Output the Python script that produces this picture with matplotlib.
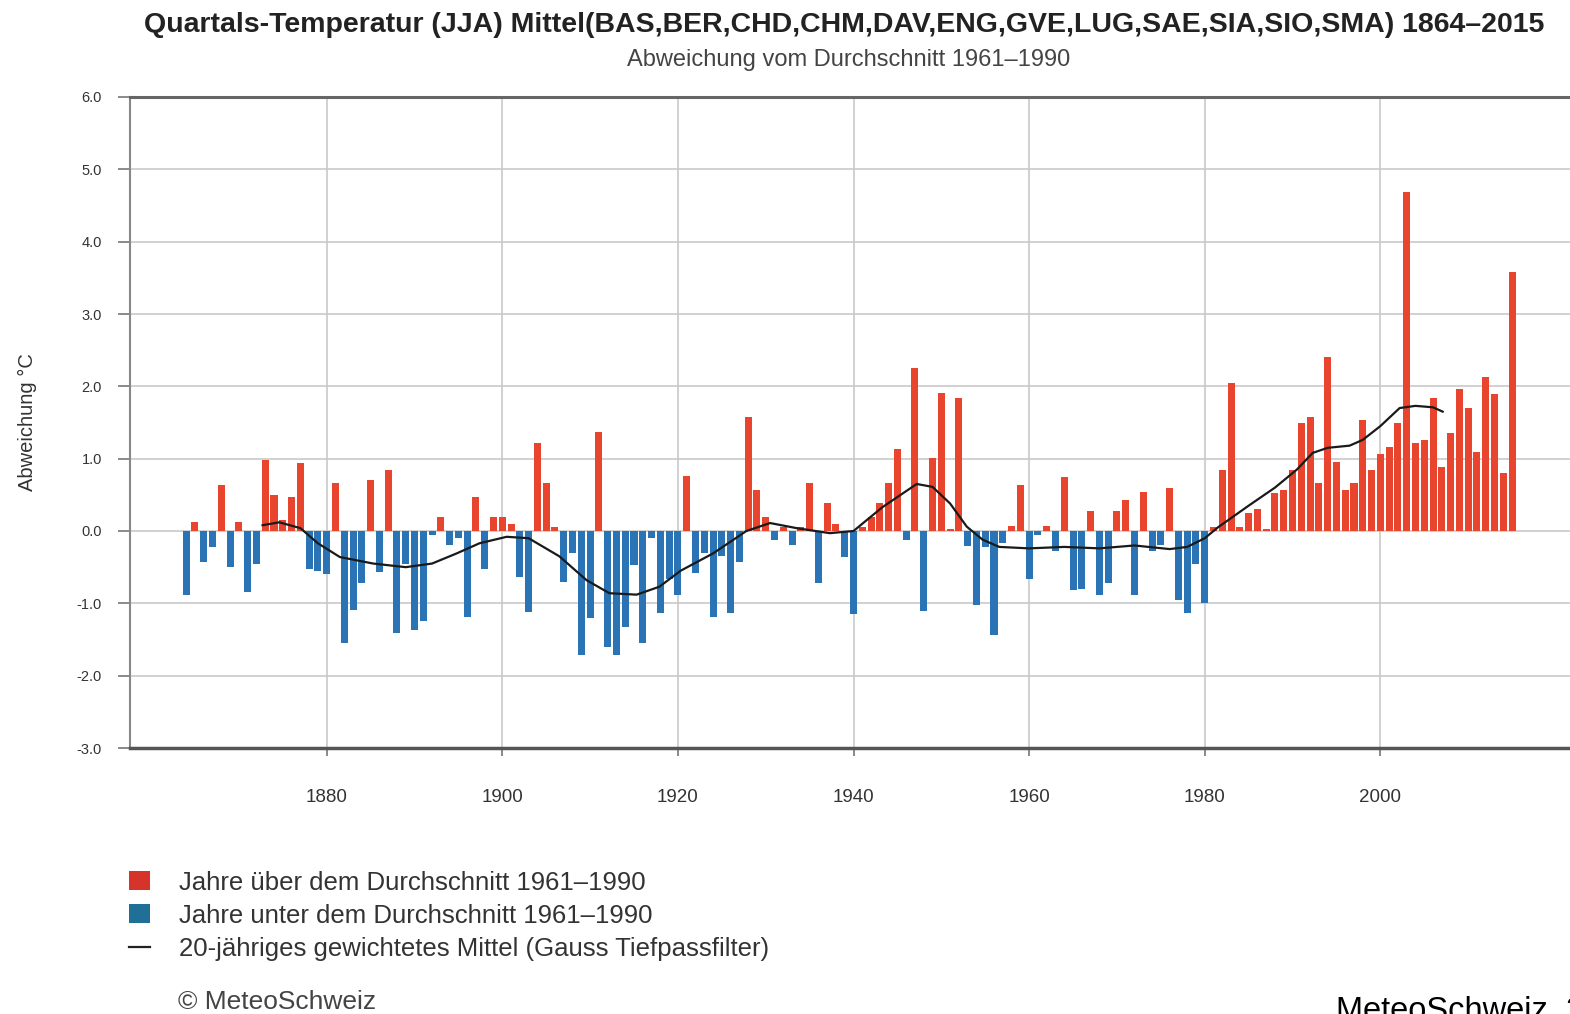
import matplotlib
matplotlib.use("Agg")
import matplotlib.pyplot as plt
from matplotlib.patches import Patch
from matplotlib.lines import Line2D

plt.rcParams['font.family'] = ['Liberation Sans', 'DejaVu Sans']

# summer (JJA) anomalies vs 1961-1990, one value per year 1864..2015
years = list(range(1864, 2016))
anomaly = [
    -0.89, 0.13, -0.43, -0.22, 0.64, -0.50, 0.13, -0.84, -0.45, 0.98,   # 1864-1873
    0.50, 0.15, 0.47, 0.94, -0.52, -0.55, -0.60, 0.66, -1.55, -1.09,    # 1874-1883
    -0.72, 0.70, -0.56, 0.84, -1.41, -0.45, -1.37, -1.25, -0.05, 0.20,  # 1884-1893
    -0.20, -0.10, -1.19, 0.47, -0.52, 0.20, 0.20, 0.10, -0.63, -1.12,   # 1894-1903
    1.22, 0.66, 0.05, -0.71, -0.30, -1.71, -1.20, 1.37, -1.60, -1.71,   # 1904-1913
    -1.33, -0.47, -1.55, -0.10, -1.14, -0.67, -0.89, 0.76, -0.58, -0.30,  # 1914-1923
    -1.19, -0.35, -1.14, -0.43, 1.58, 0.57, 0.20, -0.12, 0.05, -0.20,   # 1924-1933
    0.05, 0.67, -0.72, 0.39, 0.10, -0.36, -1.15, 0.05, 0.20, 0.39,      # 1934-1943
    0.67, 1.13, -0.12, 2.25, -1.11, 1.01, 1.91, 0.03, 1.84, -0.21,      # 1944-1953
    -1.02, -0.22, -1.44, -0.17, 0.07, 0.64, -0.67, -0.05, 0.07, -0.27,  # 1954-1963
    0.75, -0.81, -0.80, 0.27, -0.88, -0.72, 0.27, 0.43, -0.88, 0.54,    # 1964-1973
    -0.27, -0.20, 0.60, -0.95, -1.14, -0.45, -1.00, 0.05, 0.84, 2.05,   # 1974-1983
    0.05, 0.25, 0.30, 0.03, 0.52, 0.57, 0.85, 1.50, 1.57, 0.66,         # 1984-1993
    2.41, 0.96, 0.57, 0.66, 1.53, 0.84, 1.07, 1.16, 1.49, 4.69,         # 1994-2003
    1.21, 1.26, 1.84, 0.89, 1.35, 1.97, 1.70, 1.09, 2.13, 1.90,         # 2004-2013
    0.80, 3.58,                                                         # 2014-2015
]

# 20-year Gaussian low-pass curve
smooth_years = [1872.7, 1874.6, 1877.0, 1879.0, 1881.5, 1885.3, 1889.0, 1892.0,
                1894.8, 1897.4, 1900.5, 1903.0, 1906.5, 1909.6, 1912.2, 1915.3,
                1917.9, 1920.3, 1924.0, 1927.8, 1930.5, 1933.5, 1937.3, 1940.0,
                1943.3, 1947.2, 1949.0, 1951.0, 1952.9, 1954.7, 1956.6, 1960.0,
                1964.0, 1968.0, 1972.0, 1976.0, 1978.0, 1980.0, 1981.5, 1985.0,
                1988.0, 1990.5, 1992.3, 1994.0, 1996.5, 1998.0, 2000.0, 2002.2,
                2004.0, 2006.0, 2007.1]
smooth_values = [0.08, 0.12, 0.04, -0.17, -0.36, -0.45, -0.50, -0.45,
                 -0.31, -0.17, -0.08, -0.10, -0.35, -0.68, -0.86, -0.88,
                 -0.77, -0.55, -0.31, 0.00, 0.11, 0.04, -0.03, 0.00,
                 0.33, 0.65, 0.61, 0.38, 0.06, -0.12, -0.22, -0.24,
                 -0.22, -0.24, -0.20, -0.25, -0.22, -0.10, 0.05, 0.35,
                 0.60, 0.85, 1.08, 1.15, 1.18, 1.26, 1.45, 1.70,
                 1.73, 1.71, 1.65]

x_ticks = [1880, 1900, 1920, 1940, 1960, 1980, 2000]
y_ticks = [-3, -2, -1, 0, 1, 2, 3, 4, 5, 6]

title = ("Quartals-Temperatur (JJA) Mittel(BAS,BER,CHD,CHM,DAV,ENG,GVE,"
         "LUG,SAE,SIA,SIO,SMA) 1864\u20132015")
subtitle = "Abweichung vom Durchschnitt 1961\u20131990"
legend_labels = ["Jahre \u00fcber dem Durchschnitt 1961\u20131990",
                 "Jahre unter dem Durchschnitt 1961\u20131990",
                 "20-j\u00e4hriges gewichtetes Mittel (Gauss Tiefpassfilter)"]

RED = '#e8442e'
BLUE = '#2a74b5'

W, H = 1570, 1014
fig = plt.figure(figsize=(W / 100, H / 100), dpi=100)
ax = fig.add_axes([130 / W, 1 - 748 / H, 1 - 130 / W, (748 - 97) / H])

colors = [RED if v >= 0 else BLUE for v in anomaly]
ax.bar(years, anomaly, width=0.8, color=colors, linewidth=0, zorder=2)
ax.plot(smooth_years, smooth_values, color='#1a1a1a', lw=1.6, zorder=3)

ax.set_xlim(1857.6, 2021.6)
ax.set_ylim(-3, 6)
ax.set_xticks(x_ticks)
ax.set_yticks(y_ticks)
ax.set_yticklabels([f"{v:.1f}" for v in y_ticks])
ax.tick_params(axis='y', direction='out', length=8.6, width=1.2, color='#777',
               labelsize=10.5, pad=11.5, labelcolor='#333')
ax.tick_params(axis='x', direction='out', length=6, width=1.2, color='#777',
               labelsize=13.5, pad=23.5, labelcolor='#333')
ax.grid(True, color='#c9c9c9', lw=1.2, zorder=0)
ax.set_axisbelow(True)

ax.spines['right'].set_visible(False)
ax.spines['top'].set_color('#666')
ax.spines['top'].set_linewidth(2.2)
ax.spines['left'].set_color('#888')
ax.spines['left'].set_linewidth(1.5)
ax.spines['bottom'].set_color('#555')
ax.spines['bottom'].set_linewidth(2.5)

ax.set_ylabel("Abweichung \u00b0C", fontsize=14.5, color='#333')
ax.yaxis.set_label_coords((37 - 130) / (W - 130), (748 - 422) / (748 - 97))

fig.text(844 / W, 1 - 25 / H, title, ha='center', va='center',
         fontsize=20.5, fontweight='bold', color='#222')
fig.text(849 / W, 1 - 60 / H, subtitle, ha='center', va='center',
         fontsize=17, color='#444')

handles = [Patch(facecolor='#d6342a', edgecolor='none'),
           Patch(facecolor='#1f6f96', edgecolor='none'),
           Line2D([0], [0], color='#222', lw=1.6)]
fig.legend(handles, legend_labels, loc='upper left',
           bbox_to_anchor=(126 / W, 1 - 868 / H), frameon=False,
           fontsize=18.5, labelcolor='#333', handlelength=0.85, handleheight=0.75,
           handletextpad=1.1, labelspacing=0.36, borderaxespad=0,
           borderpad=0.1)

fig.text(178 / W, 1 - 1002 / H, "\u00a9 MeteoSchweiz", ha='left', va='center',
         fontsize=19, color='#444')
fig.text(1336 / W, 1 - 1020 / H, "MeteoSchweiz, 2016", ha='left',
         va='baseline', fontsize=23.5, color='black')

fig.savefig('out.png', dpi=100)
